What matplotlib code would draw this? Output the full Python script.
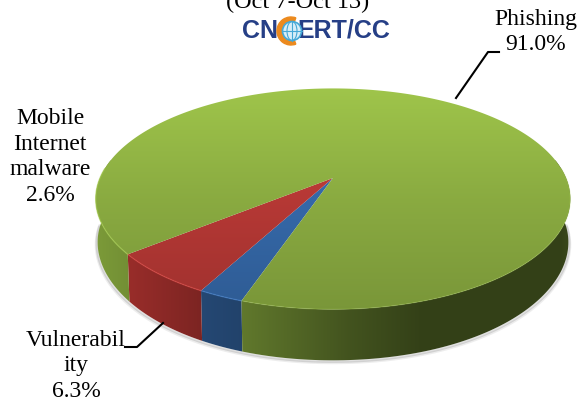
import numpy as np
import matplotlib
matplotlib.use("Agg")
import matplotlib.pyplot as plt
from matplotlib.patches import Polygon, Circle, Wedge, Ellipse

# slices, going clockwise from the front of the pie
categories = ["Mobile\nInternet\nmalware", "Vulnerabil\nity", "Phishing"]
values = [2.6, 6.3, 91.0]
value_labels = ["2.6%", "6.3%", "91.0%"]
top_colors = ["#3f7cc8", "#d8433f", "#a4cb4d"]
side_colors = ["#2f5c94", "#a02f2c", "#85a63d"]

WIDTH, HEIGHT = 579, 403
CX, CY = 333, 178      # pie centre as seen on the picture
A, B, Q = 233, 106.5, -0.189   # perspective of the top face
DEPTH = 51
START = 18.8           # degrees from the front


def project(theta):
    """Pie angle (degrees) to pixel position on the top rim"""
    t = np.radians(theta)
    x, y = -np.sin(t), np.cos(t)
    w = 1 + Q * y
    return CX + A * x / w, CY + B * y / w


def shaded(ax, verts, color, shade, zorder):
    """Fill a polygon with a colour multiplied by a shade image"""
    rgb = np.array(matplotlib.colors.to_rgb(color))
    img = np.clip(shade[..., None] * rgb, 0, 1)
    im = ax.imshow(img, extent=(0, WIDTH, HEIGHT, 0), origin="upper",
                   aspect="auto", zorder=zorder, interpolation="bilinear")
    im.set_clip_path(Polygon(verts, closed=True, transform=ax.transData))


def lower_rim(th):
    px, py = project(th)
    drop = DEPTH - 8 * np.abs(np.sin(np.radians(th))) ** 3
    return CX + (px - CX) * 0.992, py + drop


def rim_band(t0, t1):
    th = np.linspace(t0, t1, 120)
    px, py = project(th)
    lx, ly = lower_rim(th)
    return np.vstack([np.column_stack([px, py]), np.column_stack([lx, ly])[::-1]])


fig = plt.figure(figsize=(WIDTH / 100, HEIGHT / 100), dpi=100)
ax = fig.add_axes([0, 0, 1, 1])
plt.rcParams["font.family"] = ["Liberation Serif", "DejaVu Serif"]

xx, yy = np.meshgrid(np.arange(WIDTH) + 0.5, np.arange(HEIGHT) + 0.5)
# side gets darker from the left edge to the middle, top gets darker downwards
side_shade = np.interp(xx, [96, 130, 245, 350, 420, 560, 575], [0.93, 0.86, 0.72, 0.50, 0.39, 0.39, 0.46])
side_red_blue = np.interp(xx, [130, 200, 245], [0.95, 0.78, 0.72])
top_shade = np.interp(yy, [88, 200, 310], [0.97, 0.84, 0.74])

angles = START + np.cumsum([0] + list(np.array(values) / sum(values) * 360))

# soft shadow under the rim
th = np.linspace(-88, 88, 200)
lx, ly = lower_rim(th)
for off, alpha in [(2.5, 0.10), (1.2, 0.18)]:
    ax.plot(lx + np.sign(lx - CX) * off * 0.6, ly + off, color="#555555", alpha=alpha, lw=2, zorder=1)

# rim, only the front half shows
for i, (c0, c1) in enumerate(zip(angles[:-1], angles[1:])):
    if i == 2:
        shaded(ax, rim_band(c0, 100), side_colors[i], side_shade, 2)
        shaded(ax, rim_band(-100, START), side_colors[i], side_shade, 2)
    else:
        shaded(ax, rim_band(c0, c1), side_colors[i], side_red_blue, 2)

# top face
for i, (c0, c1) in enumerate(zip(angles[:-1], angles[1:])):
    th = np.linspace(c0, c1, 360)
    px, py = project(th)
    verts = np.vstack([[CX, CY], np.column_stack([px, py])])
    shaded(ax, verts, top_colors[i], top_shade, 3)

# light edge along the front of the top face
for i, (c0, c1) in enumerate(zip(angles[:-1], angles[1:])):
    th = np.linspace(c0, min(c1, 95), 100)
    px, py = project(th)
    ax.plot(px, py, color=top_colors[i], lw=1.0, alpha=0.6, zorder=4)
th = np.linspace(-95, START, 150)
px, py = project(th)
ax.plot(px, py, color=top_colors[2], lw=0.9, alpha=0.3, zorder=4)

# labels
serif = dict(family=["Liberation Serif", "DejaVu Serif"], fontsize=17.0, color="black",
             ha="center", va="center", linespacing=1.31, zorder=6)
ax.text(50, 157, categories[0] + "\n" + value_labels[0], **serif)
ax.text(76, 366, categories[1] + "\n" + value_labels[1], **serif)
ax.text(536, 32, categories[2] + "\n" + value_labels[2], **serif)
ax.text(298, 2, "(Oct 7-Oct 13)", **{**serif, "fontsize": 17.5})

# leader lines
ax.plot([499, 488, 456], [52, 52, 98], color="black", lw=1.5, zorder=6)
ax.plot([125, 137, 163], [347, 347, 323], color="black", lw=1.5, zorder=6)

# CNCERT/CC logo
logo = dict(family=["Liberation Sans", "DejaVu Sans"], fontsize=18, fontweight="bold",
            color="#263f86", va="center", zorder=6)
ax.text(242, 31, "CN", ha="left", **logo)
ax.text(390, 31, "ERT/CC", ha="right", **logo)
ax.add_patch(Wedge((291, 31), 14, 70, 290, width=5, color="#ec8a1e", zorder=6))
ax.add_patch(Circle((292, 31), 9.5, facecolor="#d8eef8", edgecolor="#45a8d6", lw=1.2, zorder=6))
ax.plot([282.5, 301.5], [31, 31], color="#45a8d6", lw=0.8, zorder=7)
ax.plot([292, 292], [21.5, 40.5], color="#45a8d6", lw=0.8, zorder=7)
ax.add_patch(Ellipse((292, 31), 10, 19, fill=False, edgecolor="#45a8d6", lw=0.8, zorder=7))

ax.set_xlim(0, WIDTH)
ax.set_ylim(HEIGHT, 0)
ax.axis("off")
fig.savefig("out.png", dpi=100, facecolor="white")
